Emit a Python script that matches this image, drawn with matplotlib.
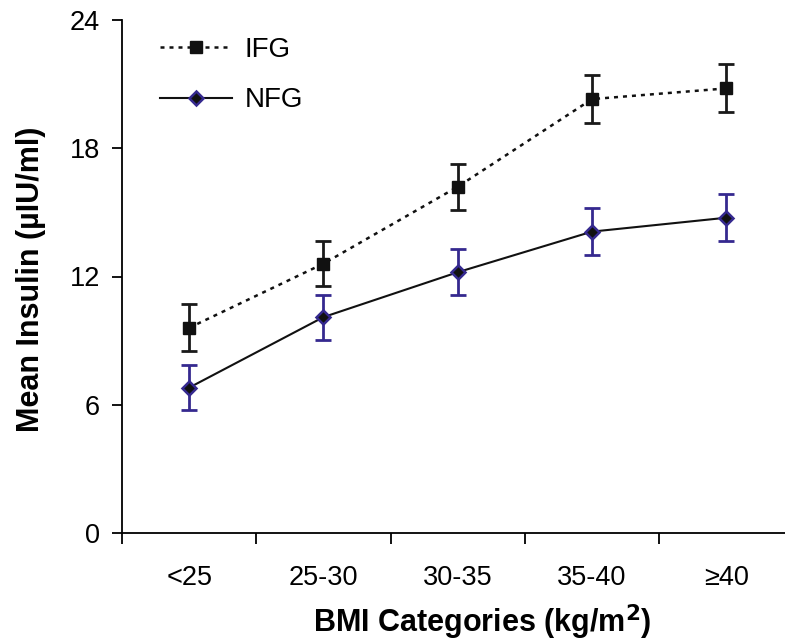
import numpy as np
import matplotlib.pyplot as plt

plt.rcParams['font.family'] = ['Liberation Sans', 'DejaVu Sans']

categories = ['<25', '25-30', '30-35', '35-40', '\u226540']
ifg_mean = [9.6, 12.6, 16.2, 20.3, 20.8]
ifg_err = [1.1, 1.05, 1.07, 1.12, 1.12]
nfg_mean = [6.8, 10.1, 12.2, 14.1, 14.75]
nfg_err = [1.05, 1.05, 1.07, 1.1, 1.1]

navy = '#35298f'
x = np.arange(len(categories))

fig = plt.figure(figsize=(7.85, 6.42), dpi=100)
ax = fig.add_axes([122 / 785, 1 - 533 / 642, (785 - 122) / 785, 513 / 642])

ax.errorbar(x, ifg_mean, yerr=ifg_err, fmt='none', ecolor='#1a1a1a',
            elinewidth=2, capsize=6, capthick=2, zorder=2)
ax.errorbar(x, nfg_mean, yerr=nfg_err, fmt='none', ecolor=navy,
            elinewidth=2, capsize=6, capthick=2, zorder=2)
ax.plot(x, ifg_mean, linestyle=(0, (1.6, 2.0)), color='#111111', lw=1.8,
        marker='s', ms=8, mfc='#111111', mec='#111111', label='IFG', zorder=3)
ax.plot(x, nfg_mean, linestyle='-', color='#111111', lw=1.5,
        marker='D', ms=7, mfc='#111111', mec=navy, mew=1.8, label='NFG', zorder=3)

ax.set_xlim(-0.5, -0.5 + (785 - 122) / 134.3)
ax.set_ylim(0, 24)
ax.set_yticks([0, 6, 12, 18, 24])
ax.set_xticks(np.arange(-0.5, 4.0, 1.0))
ax.set_xticks(x, minor=True)
ax.set_xticklabels([])
ax.set_xticklabels(categories, minor=True)
ax.tick_params(axis='x', which='major', direction='out', length=8, width=1.3)
ax.tick_params(axis='x', which='minor', length=0, pad=23, labelsize=19.5)
ax.tick_params(axis='y', direction='out', length=7, width=1.3, labelsize=19.5, pad=9)

for s in ['top', 'right']:
    ax.spines[s].set_visible(False)
for s in ['left', 'bottom']:
    ax.spines[s].set_linewidth(1.3)

ax.set_xlabel('BMI Categories (kg/m$^{\\mathbf{2}}$)', fontsize=22, fontweight='bold')
ax.set_ylabel('Mean Insulin (\u00b5IU/ml)', fontsize=22, fontweight='bold')
ax.xaxis.set_label_coords(0.543, -0.136)
ax.yaxis.set_label_coords(-0.114, 0.495)

ax.legend(loc='upper left', frameon=False, fontsize=20, handlelength=2.6,
          handletextpad=0.45, labelspacing=0.88, borderpad=0, borderaxespad=0,
          bbox_to_anchor=(0.057, 0.967))

fig.savefig('out.png', dpi=100)
